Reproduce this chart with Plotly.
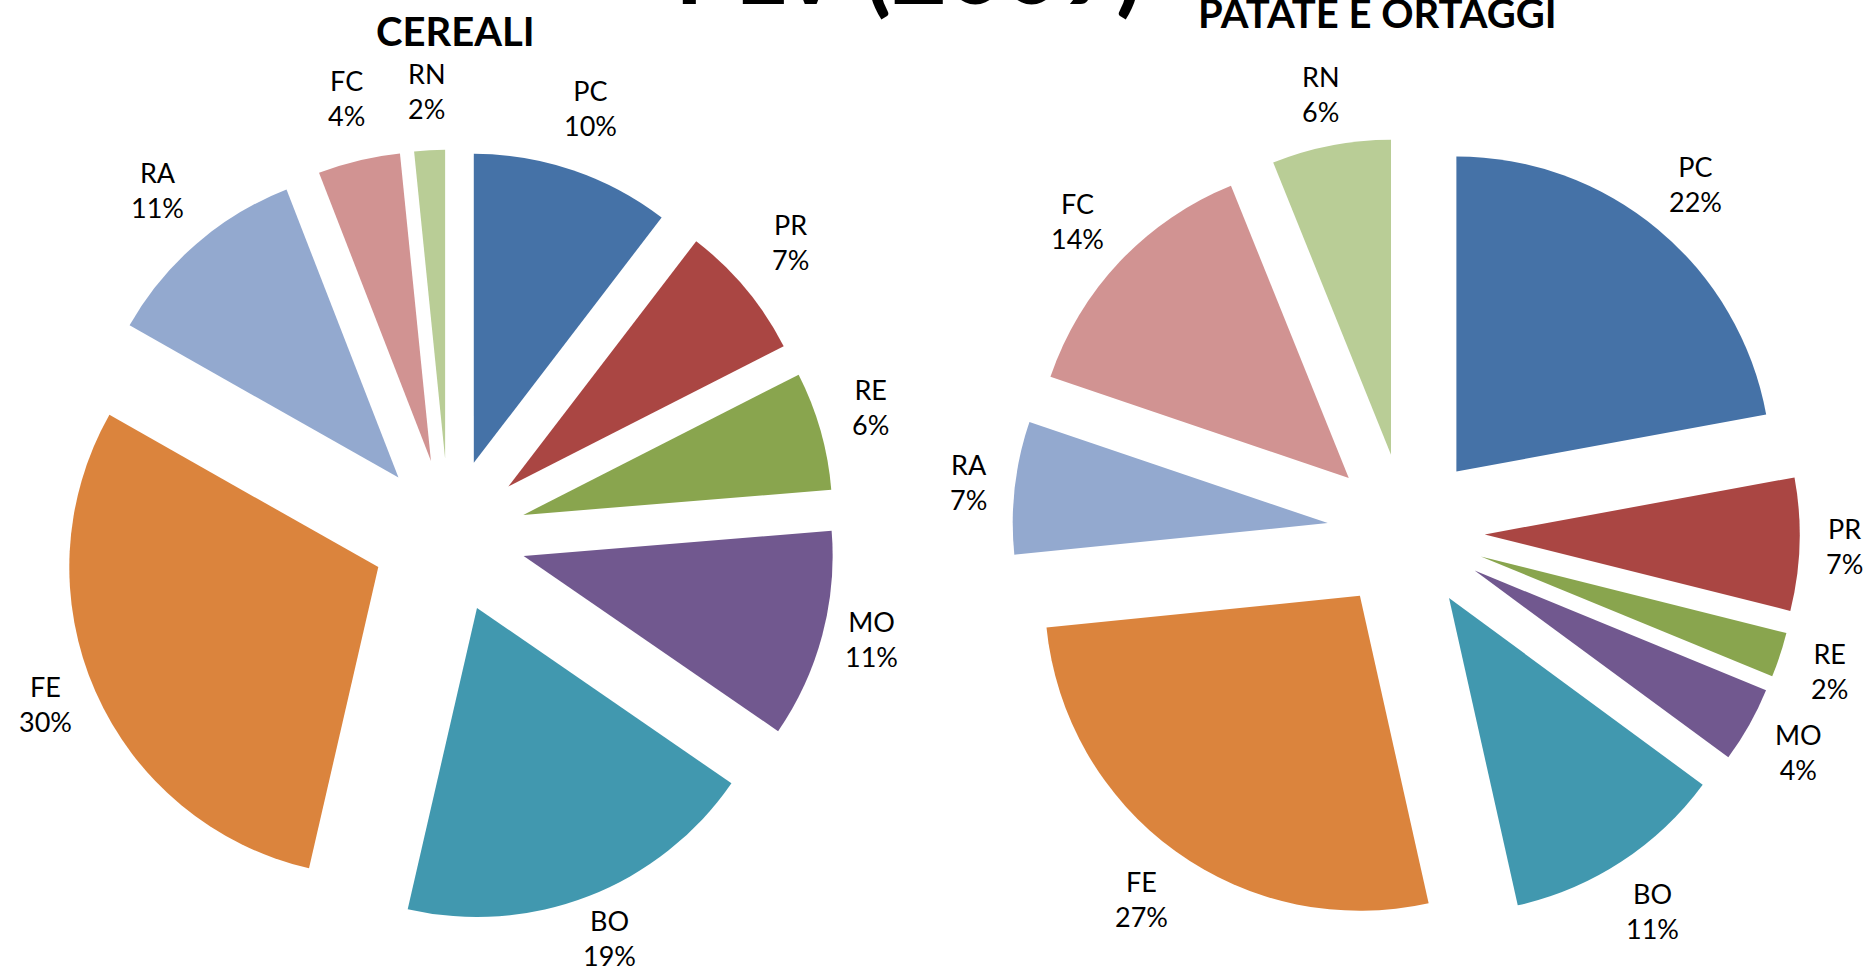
import math
import plotly.graph_objects as go

W, H = 1867, 969

labels = ["PC", "PR", "RE", "MO", "BO", "FE", "RA", "FC", "RN"]
cereali_values = [10.4, 7.1, 6.2, 10.9, 19.0, 29.6, 10.9, 4.3, 1.6]
patate_values = [22.1, 6.8, 2.3, 3.9, 11.4, 26.9, 6.8, 13.7, 6.1]
colors = ["#4572A7", "#AA4643", "#89A54E", "#71588F", "#4198AF",
          "#DB843D", "#93A9CF", "#D19392", "#B9CD96"]

main_title = "PLV (2009)"
left_title = "CEREALI"
right_title = "PATATE E ORTAGGI"

FONT = "Lato"
LABEL_SIZE = 27


def px_x(p):
    return p / W


def px_y(p):
    return 1 - p / H


fig = go.Figure()


def add_pie(values, cx, cy, r, pull, label_dy):
    half = r * (1 + pull)
    fig.add_trace(go.Pie(
        labels=labels,
        values=values,
        sort=False,
        direction="clockwise",
        rotation=0,
        pull=[pull] * len(values),
        marker=dict(colors=colors, line=dict(width=0)),
        textinfo="none",
        hoverinfo="label+percent",
        showlegend=False,
        automargin=False,
        domain=dict(x=[px_x(cx - half), px_x(cx + half)],
                    y=[px_y(cy + half), px_y(cy - half)]),
    ))
    # Excel-style outside-end data labels: centred beyond each slice's bisector
    total = float(sum(values))
    cum = 0.0
    gap, hw, hh = 15.0, 28.5, 33.0
    for lab, v in zip(labels, values):
        mid = (cum + v / 2.0) / total * 2 * math.pi
        cum += v
        sx, sy = math.sin(mid), -math.cos(mid)
        dist = half + gap + hw * abs(sx) + hh * abs(sy)
        lx, ly = cx + dist * sx, cy + dist * sy + label_dy
        pct = round(v / total * 100)
        fig.add_annotation(
            text=f"{lab}<br>{pct}%", x=px_x(lx), y=px_y(ly),
            xref="paper", yref="paper", xanchor="center", yanchor="middle",
            showarrow=False, align="center",
            font=dict(family=FONT, size=LABEL_SIZE, color="#000000"))


add_pie(cereali_values, 449, 536, 309, 0.25, -10)
add_pie(patate_values, 1406, 532, 315, 0.25, 0)

fig.add_annotation(text=f"<b>{main_title}</b>", x=px_x(909), y=px_y(27),
                   xref="paper", yref="paper", xanchor="center", yanchor="bottom",
                   showarrow=False, font=dict(family=FONT, size=97, color="#000000"))
fig.add_annotation(text=f"<b>{left_title}</b>", x=px_x(455), y=px_y(57),
                   xref="paper", yref="paper", xanchor="center", yanchor="bottom",
                   showarrow=False, font=dict(family=FONT, size=40, color="#000000"))
fig.add_annotation(text=f"<b>{right_title}</b>", x=px_x(1377.5), y=px_y(39),
                   xref="paper", yref="paper", xanchor="center", yanchor="bottom",
                   showarrow=False, font=dict(family=FONT, size=40, color="#000000"))

fig.update_layout(
    width=W, height=H,
    margin=dict(l=0, r=0, t=0, b=0, pad=0, autoexpand=False),
    paper_bgcolor="#FFFFFF",
    plot_bgcolor="#FFFFFF",
    font=dict(family=FONT, color="#000000"),
)

fig.write_html(
    "out.html",
    config={"displayModeBar": False},
    post_script="document.body.style.margin='0';document.body.style.overflow='hidden';",
)
